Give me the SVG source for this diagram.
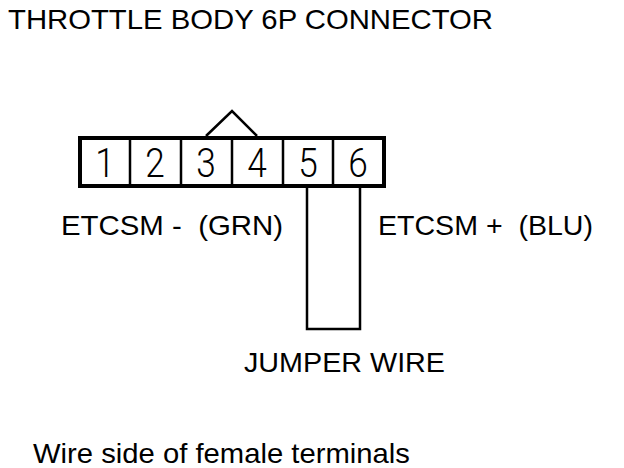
<svg xmlns="http://www.w3.org/2000/svg" width="624" height="468" viewBox="0 0 624 468">
<style>
text{font-family:"Liberation Sans",Arial,sans-serif;fill:#000}
.lbl{font-size:28px}
.num{font-family:Roboto,"Liberation Sans",sans-serif;font-weight:300;font-size:40px;text-anchor:middle}
.ln{stroke:#000;fill:none;stroke-width:2.5}
</style>
<rect width="624" height="468" fill="#fff"/>
<text id="title" class="lbl" x="8" y="29" font-size="29" textLength="485" lengthAdjust="spacingAndGlyphs">THROTTLE BODY 6P CONNECTOR</text>
<g id="connector">
<rect x="80" y="138" width="304" height="48" fill="#fff" stroke="#000" stroke-width="4"/>
<path class="ln" d="M130 138V186M181 138V186M232 138V186M283 138V186M333 138V186"/>
<path class="ln" d="M206 136L232 111L257 136"/>
<g transform="scale(0.88,1)">
<text class="num" x="119.3" y="177">1</text>
<text class="num" x="176.1" y="177">2</text>
<text class="num" x="234.1" y="177">3</text>
<text class="num" x="292" y="177">4</text>
<text class="num" x="350" y="177">5</text>
<text class="num" x="406.8" y="177">6</text>
</g>
</g>
<g id="connectors">
<path class="ln" d="M307 188V329H360V188"/>
</g>
<text id="etcsm-minus" class="lbl" x="61" y="235" textLength="222" lengthAdjust="spacingAndGlyphs" xml:space="preserve">ETCSM -  (GRN)</text>
<text id="etcsm-plus" class="lbl" x="378" y="235" textLength="215" lengthAdjust="spacingAndGlyphs" xml:space="preserve">ETCSM +  (BLU)</text>
<text id="jumper" class="lbl" x="244" y="372" textLength="201" lengthAdjust="spacingAndGlyphs">JUMPER WIRE</text>
<text id="note" class="lbl" x="33" y="463" textLength="377" lengthAdjust="spacingAndGlyphs">Wire side of female terminals</text>
</svg>
